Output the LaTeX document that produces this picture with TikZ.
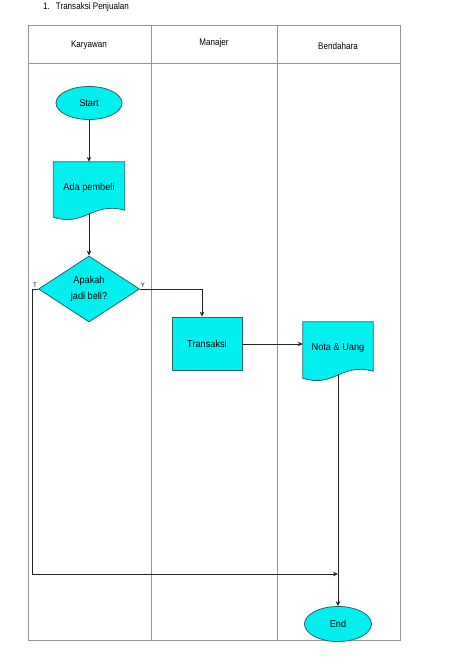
\documentclass[tikz,border=0pt]{standalone}
\usepackage{fontspec}
\setmainfont{Liberation Sans}[FakeStretch=0.85]
\newfontfamily\nodefont{Liberation Sans}[FakeStretch=0.92]
\usetikzlibrary{shapes.geometric,arrows.meta,calc}
\definecolor{boxfill}{RGB}{0,240,240}
\definecolor{boxline}{RGB}{40,100,110}
\definecolor{gridline}{RGB}{150,150,150}
\definecolor{conn}{RGB}{35,35,35}
\tikzset{
  lane/.style={draw=gridline,line width=0.9pt},
  term/.style={ellipse,draw=boxline,fill=boxfill,line width=0.8pt,inner sep=0pt,font=\nodefont\fontsize{10}{12}\selectfont},
  procbox/.style={rectangle,draw=boxline,fill=boxfill,line width=0.8pt,inner sep=0pt,font=\nodefont\fontsize{10}{12}\selectfont},
  decis/.style={diamond,draw=boxline,fill=boxfill,line width=0.8pt,inner sep=0pt,align=center,font=\nodefont\fontsize{10}{16}\selectfont},
  docnode/.style={rectangle,inner sep=0pt,font=\nodefont\fontsize{10}{12}\selectfont},
  docshape/.style={draw=boxline,fill=boxfill,line width=0.8pt},
  conn/.style={draw=conn,line width=1pt},
  arr/.style={conn,-{Stealth[length=5pt,width=4.5pt]}},
  hdr/.style={font=\fontsize{9.5}{11}\selectfont},
  lbl/.style={font=\fontsize{6.5}{7}\selectfont,inner sep=0pt}
}
\begin{document}
\begin{tikzpicture}[x=1pt,y=-1pt]
\useasboundingbox (0,0) rectangle (474,665);
% title
\node[hdr,anchor=west,inner sep=0pt] (title) at (43,7) {1.\hspace{6pt}Transaksi Penjualan};
% swimlane table
\draw[lane] (28,25) rectangle (400,640);
\draw[lane] (28,63) -- (400,63);
\draw[lane] (151,25) -- (151,640);
\draw[lane] (277,25) -- (277,640);
\node[hdr] (h1) at (89,45) {Karyawan};
\node[hdr] (h2) at (214,43) {Manajer};
\node[hdr] (h3) at (338,46) {Bendahara};
% nodes
\node[term,minimum width=66pt,minimum height=33pt] (start) at (89,103) {Start};
% document: Ada pembeli
\node[docnode,minimum width=71pt,minimum height=51pt] (ada) at (89,187.5) {};
\path[docshape] ($(ada.south west)+(0,4)$) -- (ada.north west) -- (ada.north east) -- ($(ada.south east)+(0,-3)$)
  .. controls ($(ada.south west)+(0.55*71,-12)$) and ($(ada.south west)+(0.45*71,14)$) .. ($(ada.south west)+(0,4)$) -- cycle;
\node[docnode] (adatext) at (ada.center) {Ada pembeli};
\node[decis,minimum width=101pt,minimum height=66pt] (dec) at (89,289) {Apakah\\jadi beli?};
\node[procbox,minimum width=70pt,minimum height=53pt] (tr) at (207,343.5) {Transaksi};
% document: Nota & Uang
\node[docnode,minimum width=70pt,minimum height=52pt] (nota) at (338,348) {};
\path[docshape] ($(nota.south west)+(0,4)$) -- (nota.north west) -- (nota.north east) -- ($(nota.south east)+(0,-3)$)
  .. controls ($(nota.south west)+(0.55*70,-12)$) and ($(nota.south west)+(0.45*70,14)$) .. ($(nota.south west)+(0,4)$) -- cycle;
\node[docnode] (notatext) at (nota.center) {Nota \& Uang};
\node[term,minimum width=67pt,minimum height=35pt] (end) at (338,624) {End};
% labels
\node[lbl] (lt) at (35,285) {T};
\node[lbl] (ly) at (143,285) {Y};
% connectors
\coordinate (tcorner) at (32,289);
\coordinate (tbottom) at (32,574);
\coordinate (merge) at (338,574);
\coordinate (trin) at ($(tr.north)+(-5,0)$);
\coordinate (trout) at ($(tr.east)+(0,0.5)$);
\draw[arr] (start) -- (ada);
\draw[arr] (ada.south) -- (dec.north);
\draw[conn] (dec.west) -- (tcorner) -- (tbottom);
\draw[arr] (tbottom) -- (merge);
\draw[arr] (dec.east) -| (trin);
\draw[arr] (trout) -- (trout -| nota.west);
\draw[arr] (nota.south) -- (end.north);
\end{tikzpicture}
\end{document}
